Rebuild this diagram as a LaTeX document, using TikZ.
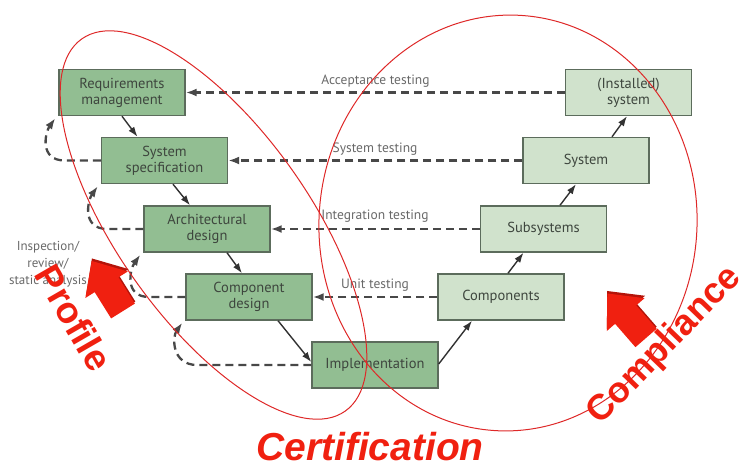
\documentclass[tikz,border=0pt]{standalone}
\usepackage{fontspec}
\setmainfont{PT Sans}
\newfontfamily\bigfont{Liberation Sans}
\usetikzlibrary{arrows.meta,calc}

\definecolor{leftfill}{RGB}{146,190,146}
\definecolor{rightfill}{RGB}{208,226,204}
\definecolor{boxedge}{RGB}{92,108,92}
\definecolor{boxtext}{RGB}{62,70,62}
\definecolor{labelgray}{RGB}{105,105,105}
\definecolor{dashgray}{RGB}{72,72,72}
\definecolor{flowgray}{RGB}{50,50,50}
\definecolor{ringred}{RGB}{222,40,40}
\definecolor{bigred}{RGB}{240,32,16}
\definecolor{shadered}{RGB}{180,20,10}

\begin{document}
\begin{tikzpicture}[x=1pt,y=1pt,
  phase/.style={draw=boxedge, line width=1.4pt, minimum width=126pt,
    minimum height=46pt, inner sep=0pt, align=center, text=boxtext,
    font=\fontsize{14.5}{16}\selectfont},
  leftbox/.style={phase, fill=leftfill},
  rightbox/.style={phase, fill=rightfill},
  flow/.style={line width=1.4pt, draw=flowgray,
    -{Latex[length=10pt,width=7pt]}},
  check/.style={line width=2.3pt, draw=dashgray, dash pattern=on 8pt off 5pt,
    -{Latex[length=11pt,width=8pt]}},
  testlabel/.style={text=labelgray, font=\fontsize{13.5}{15}\selectfont},
  ring/.style={draw=ringred, line width=1pt},
  bigword/.style={text=bigred, font=\bigfont\bfseries\fontsize{37}{40}\selectfont},
  blockarrow/.pic={
    \fill[shadered] (1.5,-15.5) -- (32.5,-15.5) -- (32.5,-27) -- (61,-1.5)
      -- (32.5,23.5) -- (32.5,12.5) -- (1.5,12.5) -- cycle;
    \fill[bigred] (0,-14) -- (31,-14) -- (31,-25) -- (59,0) -- (31,25)
      -- (31,14) -- (0,14) -- cycle;
  }]
\useasboundingbox (0,0) rectangle (747,-466);

% V-model phases, left branch
\node[leftbox]  (req)  at (122,-92.5) {Requirements\\management};
\node[leftbox]  (spec) at (164.5,-160.5) {System\\specification};
\node[leftbox]  (arch) at (207,-229) {Architectural\\design};
\node[leftbox]  (comp) at (249,-297) {Component\\design};
\node[leftbox]  (impl) at (375,-365) {Implementation};
% right branch
\node[rightbox] (parts) at (501,-297) {Components};
\node[rightbox] (subs)  at (543.5,-229) {Subsystems};
\node[rightbox] (sys)   at (586,-160.5) {System};
\node[rightbox] (inst)  at (628.5,-92.5) {(Installed)\\system};

% development flow
\draw[flow] (req.south) -- ([xshift=-27pt]spec.north);
\draw[flow] ([xshift=8.5pt]spec.south) -- ([xshift=-17pt]arch.north);
\draw[flow] ([xshift=20pt]arch.south) -- ([xshift=-7pt]comp.north);
\draw[flow] ([xshift=29pt]comp.south) -- ([yshift=3pt]impl.west);
\draw[flow] ([yshift=1pt]impl.east) -- ([xshift=-29pt]parts.south);
\draw[flow] ([xshift=7pt]parts.north) -- ([xshift=-20pt]subs.south);
\draw[flow] ([xshift=16.5pt]subs.north) -- ([xshift=-10pt]sys.south);
\draw[flow] ([xshift=26pt]sys.north) -- ([xshift=-1.5pt]inst.south);

% testing levels
\draw[check] (inst.west)  -- (req.east);
\draw[check] (sys.west)   -- (spec.east);
\draw[check] (subs.west)  -- (arch.east);
\draw[check] (parts.west) -- (comp.east);
\node[testlabel] (lacc)  at (375.5,-81)  {Acceptance testing};
\node[testlabel] (lsys)  at (375,-149)   {System testing};
\node[testlabel] (lint)  at (375,-216)   {Integration testing};
\node[testlabel] (lunit) at (375,-285)   {Unit testing};

% inspection / review loops
\coordinate (r1) at ([xshift=-3pt,yshift=-2pt]req.south west);
\coordinate (r2) at ([xshift=-3pt,yshift=-2pt]spec.south west);
\coordinate (r3) at ([xshift=-3pt,yshift=-2pt]arch.south west);
\coordinate (r4) at ([xshift=-3pt,yshift=-2pt]comp.south west);
\draw[check] (spec.west) -- ++(-36,0) .. controls +(-26,0) and +(-10,-14) .. (r1);
\draw[check] (arch.west) -- ++(-36,0) .. controls +(-26,0) and +(-10,-14) .. (r2);
\draw[check] (comp.west) -- ++(-36,0) .. controls +(-26,0) and +(-10,-14) .. (r3);
\draw[check] (impl.west) -- ++(-114,0) .. controls +(-26,0) and +(-10,-14) .. (r4);
\node[testlabel, align=center, font=\fontsize{13}{17}\selectfont] (insp) at (48,-264) {Inspection/\\review/\\static analysis};

% scope rings
\draw[ring, rotate around={-54.7:(213.5,-225)}] (213.5,-225) ellipse [x radius=228, y radius=96];
\draw[ring, rotate around={-4:(508,-223)}] (508,-223) ellipse [x radius=189, y radius=208];

% markers and captions
\pic[rotate=122] at (123,-311) {blockarrow};
\pic[rotate=131] at (646,-338) {blockarrow};
\node[bigword, rotate=-60] (prof) at (74,-318) {Profile};
\node[bigword, anchor=base, font=\bigfont\bfseries\itshape\fontsize{39}{42}\selectfont] (cert) at (370,-460) {Certification};
\node[bigword, rotate=46, font=\bigfont\bfseries\fontsize{36}{38}\selectfont] (compl) at (665,-346) {Compliance};
\end{tikzpicture}
\end{document}
